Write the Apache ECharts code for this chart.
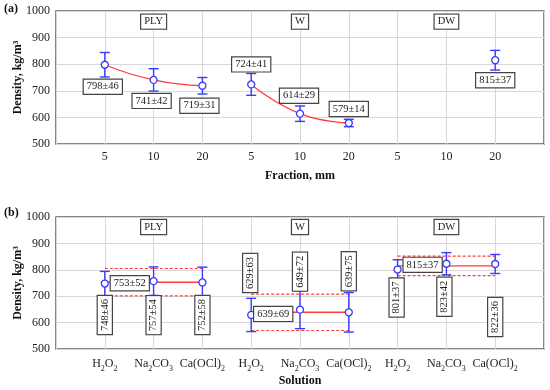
<!DOCTYPE html>
<html>
<head>
<meta charset="utf-8">
<script src="https://cdn.jsdelivr.net/npm/echarts@6/dist/echarts.min.js"></script>
<style>html,body{margin:0;padding:0;background:#fff}#c{width:550px;height:390px}</style>
</head>
<body>
<div id="c"></div>
<script>
// ---------- data ----------
const fracCats = ['5', '10', '20', '5', '10', '20', '5', '10', '20'];
const groups = ['PLY', 'W', 'DW'];
const fracMean = [798, 741, 719, 724, 614, 579, null, null, 815];
const fracErr = [46, 42, 31, 41, 29, 14, null, null, 37];
const solCats = ['H₂O₂', 'Na₂CO₃', 'Ca(OCl)₂', 'H₂O₂', 'Na₂CO₃', 'Ca(OCl)₂', 'H₂O₂', 'Na₂CO₃', 'Ca(OCl)₂'];
const solMean = [748, 757, 752, 629, 649, 639, 801, 823, 822];
const solErr = [46, 54, 58, 63, 72, 75, 37, 42, 36];
const groupMean = [753, 639, 815];
const groupErr = [52, 69, 37];
const yMin = 500, yMax = 1000, yStep = 100;

// ---------- label placement (pixels, style only) ----------
const fracLabelOffset = [[-2, 22], [-2, 21], [-3, 20], [0, -20], [-1, -18], [0, -14], null, null, [0, 20]];
const solLabelOffset = [[0, 31.5], [0, 34], [0, 32.5], [-1, -42], [0, -38], [0, -41], [-1, 28], [-2, 33], [0, 53]];
const meanLabelOffset = [[25, 1], [22, 1.6], [25, -1]];
const groupLabelY = [960, 962];

const BLUE = '#3a3aff', RED = '#ff3b3b', FONT = '"Liberation Serif", "Times New Roman", serif';

const chart = echarts.init(document.getElementById('c'));

function pm(m, e) { return m + '±' + e; }

function errorBarSeries(means, errs, axis) {
  const d = [];
  means.forEach((m, i) => { if (m != null) d.push([i + 1, m, errs[i]]); });
  return {
    type: 'custom', xAxisIndex: axis, yAxisIndex: axis, z: 3, silent: true,
    data: d,
    renderItem: function (params, api) {
      const x = api.value(0), m = api.value(1), e = api.value(2);
      const lo = api.coord([x, m - e]), hi = api.coord([x, m + e]);
      const s = { stroke: BLUE, lineWidth: 1.4 };
      return { type: 'group', children: [
        { type: 'line', shape: { x1: lo[0], y1: lo[1], x2: hi[0], y2: hi[1] }, style: s },
        { type: 'line', shape: { x1: lo[0] - 5, y1: lo[1], x2: lo[0] + 5, y2: lo[1] }, style: s },
        { type: 'line', shape: { x1: hi[0] - 5, y1: hi[1], x2: hi[0] + 5, y2: hi[1] }, style: s }
      ]};
    }
  };
}

function pointSeries(means, axis) {
  const d = [];
  means.forEach((m, i) => { if (m != null) d.push([i + 1, m]); });
  return {
    type: 'scatter', xAxisIndex: axis, yAxisIndex: axis, z: 4, silent: true,
    symbol: 'circle', symbolSize: 7,
    itemStyle: { color: '#fff', borderColor: BLUE, borderWidth: 1.3, opacity: 1 },
    data: d
  };
}

// labels: [x, y, text, dx, dy, rotate]
function labelSeries(items, axis) {
  return {
    type: 'custom', xAxisIndex: axis, yAxisIndex: axis, z: 6, silent: true,
    data: items,
    renderItem: function (params, api) {
      const it = items[params.dataIndex];
      const p = api.coord([it[0], it[1]]);
      return {
        type: 'text', x: p[0] + it[3], y: p[1] + it[4], rotation: it[5] ? Math.PI / 2 : 0,
        style: {
          text: it[2], fill: '#222', font: '10.5px ' + FONT,
          align: 'center', verticalAlign: 'middle',
          backgroundColor: '#fff', borderColor: '#444', borderWidth: 1.2,
          padding: [2, 3, 1, 3]
        }
      };
    }
  };
}

const series = [];

// ---- panel (a) ----
const plyCurve = [0, 1, 2].map(i => [i + 1, fracMean[i]]);
const wCurve = [3, 4, 5].map(i => [i + 1, fracMean[i]]);
[plyCurve, wCurve].forEach(c => series.push({
  type: 'line', xAxisIndex: 0, yAxisIndex: 0, z: 2, smooth: 0.5, symbol: 'none', silent: true,
  lineStyle: { color: RED, width: 1.3 }, data: c
}));
series.push(errorBarSeries(fracMean, fracErr, 0));
series.push(pointSeries(fracMean, 0));
const aLabels = [];
fracMean.forEach((m, i) => {
  if (m != null) aLabels.push([i + 1, m, pm(m, fracErr[i]), fracLabelOffset[i][0], fracLabelOffset[i][1], false]);
});
groups.forEach((g, k) => aLabels.push([3 * k + 2, groupLabelY[0], g, 0, 0, false]));
series.push(labelSeries(aLabels, 0));

// ---- panel (b) ----
groups.forEach((g, k) => {
  const x0 = 3 * k + 1, x1 = 3 * k + 3, m = groupMean[k], e = groupErr[k];
  series.push({
    type: 'line', xAxisIndex: 1, yAxisIndex: 1, z: 2, symbol: 'none', silent: true,
    lineStyle: { color: RED, width: 1.4 }, data: [[x0, m], [x1, m]]
  });
  [m + e, m - e].forEach(v => series.push({
    type: 'line', xAxisIndex: 1, yAxisIndex: 1, z: 2, symbol: 'none', silent: true,
    lineStyle: { color: RED, width: 1.2, type: [3, 2] }, data: [[x0, v], [x1, v]]
  }));
});
series.push(errorBarSeries(solMean, solErr, 1));
series.push(pointSeries(solMean, 1));
const bLabels = [];
solMean.forEach((m, i) => bLabels.push([i + 1, m, pm(m, solErr[i]), solLabelOffset[i][0], solLabelOffset[i][1], true]));
groups.forEach((g, k) => {
  bLabels.push([3 * k + 1, groupMean[k], pm(groupMean[k], groupErr[k]), meanLabelOffset[k][0], meanLabelOffset[k][1], false]);
  bLabels.push([3 * k + 2, groupLabelY[1], g, 0, 0, false]);
});
series.push(labelSeries(bLabels, 1));

// subscript formatting of chemical names
function chem(s) {
  const subs = { '₀': '0', '₁': '1', '₂': '2', '₃': '3', '₄': '4' };
  let out = '', buf = '';
  for (const ch of s) {
    if (subs[ch]) { if (buf) { out += '{n|' + buf + '}'; buf = ''; } out += '{s|' + subs[ch] + '}'; }
    else buf += ch;
  }
  if (buf) out += '{n|' + buf + '}';
  return out;
}

function xAxisCfg(idx, cats, name, rich) {
  return {
    type: 'value', gridIndex: idx, min: 0, max: cats.length + 1, interval: 1,
    name: name, nameLocation: 'middle', nameGap: 26, nameMoveOverlap: false,
    nameTextStyle: { fontFamily: FONT, fontWeight: 'bold', fontSize: 12, color: '#111' },
    axisLine: { show: false }, axisTick: { show: false },
    splitLine: { show: true, lineStyle: { color: '#d8d8d8', width: 1 } },
    axisLabel: {
      margin: 7, color: '#222', fontFamily: FONT, fontSize: 12,
      formatter: v => (v >= 1 && v <= cats.length) ? (rich ? chem(cats[v - 1]) : cats[v - 1]) : '',
      rich: rich ? {
        n: { fontFamily: FONT, fontSize: 12, color: '#222', lineHeight: 16 },
        s: { fontFamily: FONT, fontSize: 8, color: '#222', lineHeight: 10, padding: [9, 0, 0, 0] }
      } : undefined
    }
  };
}
function yAxisCfg(idx) {
  return {
    type: 'value', gridIndex: idx, min: yMin, max: yMax, interval: yStep,
    name: 'Density, kg/m³', nameLocation: 'middle', nameGap: 32, nameRotate: 90, nameMoveOverlap: false,
    nameTextStyle: { fontFamily: FONT, fontWeight: 'bold', fontSize: 12, color: '#111' },
    axisLine: { show: false }, axisTick: { show: false },
    splitLine: { show: true, lineStyle: { color: '#d8d8d8', width: 1 } },
    axisLabel: { margin: 6, color: '#222', fontFamily: FONT, fontSize: 12, formatter: v => String(v) }
  };
}

chart.setOption({
  animation: false,
  backgroundColor: '#fff',
  grid: [
    { left: 56, top: 11, right: 6, height: 133, show: true, borderColor: '#5e5e5e', borderWidth: 1.5,
      backgroundColor: 'transparent', containLabel: false, outerBoundsMode: 'none' },
    { left: 56, top: 217, right: 6, height: 132, show: true, borderColor: '#5e5e5e', borderWidth: 1.5,
      backgroundColor: 'transparent', containLabel: false, outerBoundsMode: 'none' }
  ],
  xAxis: [
    xAxisCfg(0, fracCats, 'Fraction, mm', false),
    xAxisCfg(1, solCats, 'Solution', true)
  ],
  yAxis: [yAxisCfg(0), yAxisCfg(1)],
  graphic: [
    { type: 'text', left: 4, top: 3, style: { text: '(a)', font: 'bold 12px ' + FONT, fill: '#111' } },
    { type: 'text', left: 4, top: 207, style: { text: '(b)', font: 'bold 12px ' + FONT, fill: '#111' } }
  ],
  series: series
});
</script>
</body>
</html>
